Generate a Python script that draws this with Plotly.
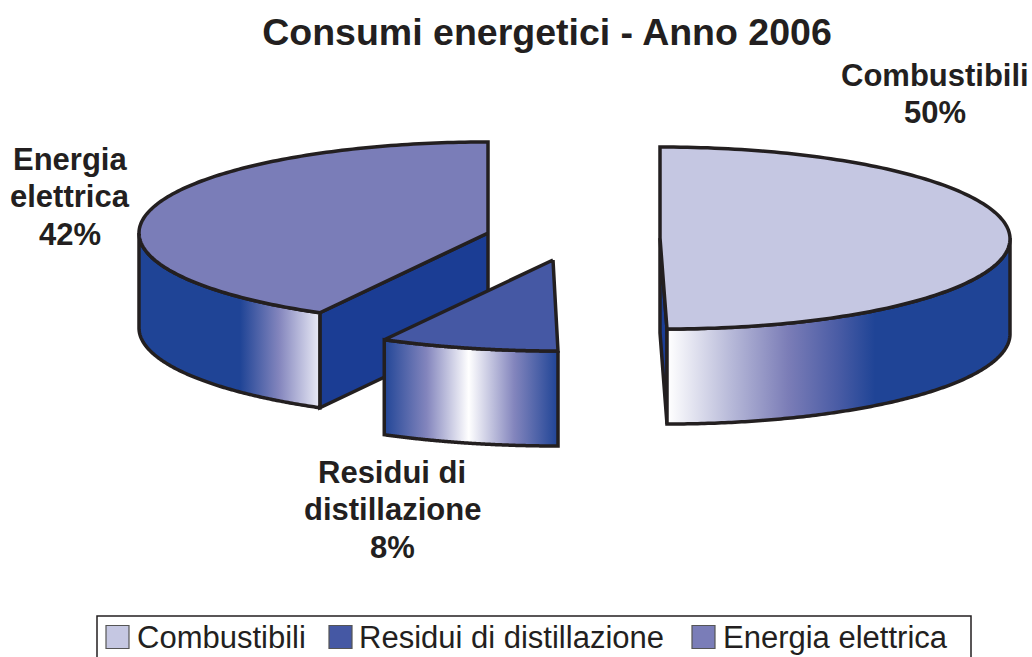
import numpy as np
import plotly.graph_objects as go

# --- data ---
categories = ["Combustibili", "Residui di distillazione", "Energia elettrica"]
shares = [50, 8, 42]
slice_labels = [["Combustibili"], ["Residui di", "distillazione"], ["Energia", "elettrica"]]
title_text = "Consumi energetici - Anno 2006"

# --- styling / layout constants ---
W, H = 1032, 657
INK = "#231f20"
top_colors = ["#c5c7e2", "#4558a4", "#7a7db8"]
cut_color = "#1b3d94"
DARK, WHITE = "#1f4496", "#ffffff"
FONT = "Liberation Sans, Arial, sans-serif"
# exploded slice: apex x, apex y, x radius, y radius, perspective skew
geometry = [(660, 238, 346.5, 91, 7), (553, 260, 360, 91, 5), (488, 233, 349, 91, 0)]
DEPTH = 95
# side-wall shading: x start, x stop, colour stops
wall_shading = [
    (668, 875, [(0, WHITE), (0.3, "#b8bad9"), (0.58, "#7b7db7"), (0.82, "#4a5ca5"), (1, DARK)]),
    (383, 558, [(0, DARK), (0.25, "#8385bd"), (0.49, WHITE), (0.75, "#8385bd"), (1, DARK)]),
    (240, 318, [(0, DARK), (0.5, "#8385bd"), (1, "#e6e7f4")]),
]
label_pos = [(935, 75), (392, 472), (70, 159)]
LABEL_STEP = 37.5
legend_swatch_x = [117.5, 340.5, 703.5]
legend_text_x = [135, 357, 721]
legend_y = 637

ends = np.cumsum(shares) / sum(shares) * 2 * np.pi
starts = np.concatenate([[0], ends[:-1]])


def arc(i, a, b, n=160):
    cx, cy, rx, ry, sk = geometry[i]
    t = np.linspace(a, b, n)
    return cx + rx * np.sin(t) + sk * (1 - np.cos(t)) / 2, cy - ry * np.cos(t)


def poly(fig, x, y, **kw):
    fig.add_trace(go.Scatter(x=list(x), y=list(y), mode="lines", fill="toself",
                             line=dict(color=INK, width=3.5, simplify=False),
                             hoverinfo="skip", showlegend=False, **kw))


fig = go.Figure()
for i in [2, 0, 1]:  # painter's order: back slice first
    cx, cy, *_ = geometry[i]
    a, b = starts[i], ends[i]
    # radial cut face seen from the front
    if i != 1:
        edge = b if i == 0 else a
        ex, ey = arc(i, edge, edge, 1)
        poly(fig, [cx, ex[0], ex[0], cx, cx], [cy, ey[0], ey[0] + DEPTH, cy + DEPTH, cy],
             fillcolor=cut_color)
    # outer wall: only the part of the arc that faces the viewer
    lo, hi = max(a, np.pi / 2), min(b, 3 * np.pi / 2)
    wx, wy = arc(i, lo, hi)
    s0, s1, stops = wall_shading[i]
    poly(fig, np.r_[wx, wx[::-1], wx[0]], np.r_[wy, wy[::-1] + DEPTH, wy[0]],
         fillgradient=dict(type="horizontal", start=s0, stop=s1,
                           colorscale=[[p, c] for p, c in stops]))
    # top face
    tx, ty = arc(i, a, b)
    poly(fig, np.r_[cx, tx, cx], np.r_[cy, ty, cy], fillcolor=top_colors[i])

# legend box and swatches
fig.add_shape(type="rect", x0=97, x1=971, y0=616, y1=670, line=dict(color=INK, width=1.5),
              fillcolor="white", layer="below")
fig.add_trace(go.Scatter(x=legend_swatch_x, y=[legend_y] * 3, mode="markers", hoverinfo="skip",
                         showlegend=False,
                         marker=dict(symbol="square", size=23, color=top_colors,
                                     line=dict(color="#555", width=1.2))))
for name, tx in zip(categories, legend_text_x):
    fig.add_annotation(x=tx, y=legend_y, text=name, showarrow=False, xanchor="left", yanchor="middle",
                       font=dict(family=FONT, size=31, color=INK))

for lab, share, (lx, ly) in zip(slice_labels, shares, label_pos):
    for k, line in enumerate(lab + [f"{share}%"]):
        fig.add_annotation(x=lx, y=ly + k * LABEL_STEP, text=f"<b>{line}</b>",
                           showarrow=False, xanchor="center", yanchor="middle", align="center",
                           font=dict(family=FONT, size=31, color=INK))

fig.update_layout(
    width=W, height=H, margin=dict(l=0, r=0, t=0, b=0),
    paper_bgcolor="white", plot_bgcolor="white", showlegend=False,
    title=dict(text=f"<b>{title_text}</b>", x=547 / W, xanchor="center", y=1 - 32 / H, yanchor="middle",
               font=dict(family=FONT, size=37.5, color=INK)),
    xaxis=dict(range=[0, W], visible=False, fixedrange=True),
    yaxis=dict(range=[H, 0], visible=False, fixedrange=True),
)
fig.write_html("out.html", config={"displayModeBar": False},
               post_script="document.body.style.margin='0';document.documentElement.style.overflow='hidden';")
